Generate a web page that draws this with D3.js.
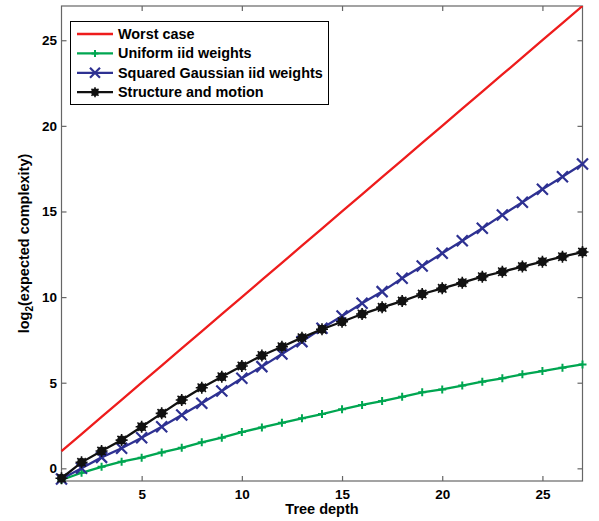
<!DOCTYPE html>
<html lang="en">
<head>
  <meta charset="UTF-8">
  <title>Expected complexity vs tree depth</title>
  <script src="https://d3js.org/d3.v7.min.js"></script>
  <style>
    body { margin: 0; background: #fff; }
    text { font-family: "Liberation Sans", Arial, sans-serif; font-weight: bold; }
  </style>
</head>
<body>
  <script>
    // data
    const depths = d3.range(1, 28);
    const worstCase = depths.map(d => d);
    const uniform = [-0.68, -0.26, 0.09, 0.39, 0.62, 0.93, 1.20, 1.52, 1.79, 2.12, 2.39,
      2.66, 2.92, 3.17, 3.45, 3.70, 3.93, 4.18, 4.44, 4.61, 4.83, 5.06, 5.26, 5.49, 5.68, 5.88, 6.07];
    const gaussian = [-0.62, 0.0, 0.64, 1.17, 1.79, 2.43, 3.11, 3.80, 4.52, 5.26, 5.94,
      6.68, 7.40, 8.18, 8.90, 9.64, 10.32, 11.10, 11.82, 12.56, 13.29, 14.02, 14.80, 15.54, 16.30, 17.03, 17.77];
    const structure = [-0.58, 0.35, 1.01, 1.65, 2.43, 3.21, 3.99, 4.71, 5.35, 5.98, 6.59,
      7.10, 7.63, 8.12, 8.56, 9.01, 9.40, 9.77, 10.18, 10.51, 10.84, 11.19, 11.48, 11.78, 12.07, 12.36, 12.63];
    const xTicks = [5, 10, 15, 20, 25];
    const yTicks = [0, 5, 10, 15, 20, 25];

    const series = [
      { name: 'Worst case', color: '#ee1c1c', values: worstCase, marker: null },
      { name: 'Uniform iid weights', color: '#00a651', values: uniform, marker: 'plus' },
      { name: 'Squared Gaussian iid weights', color: '#2e3192', values: gaussian, marker: 'cross' },
      { name: 'Structure and motion', color: '#111', values: structure, marker: 'star' }
    ];

    const width = 599, height = 521;
    const margin = { left: 61.5, right: 16.5, top: 6, bottom: 40 };

    const svg = d3.select('body').append('svg')
      .attr('width', width).attr('height', height);

    const x = d3.scaleLinear().domain([1, 27]).range([margin.left, width - margin.right]);
    const y = d3.scaleLinear().domain([-0.74, 27]).range([height - margin.bottom, margin.top]);

    const axisColor = '#666';

    // frame
    svg.append('rect')
      .attr('x', x(1)).attr('y', y(27))
      .attr('width', x(27) - x(1)).attr('height', y(-0.74) - y(27))
      .attr('fill', 'none').attr('stroke', axisColor).attr('stroke-width', 1.2);

    function styleAxis(g) {
      g.select('.domain').remove();
      g.selectAll('line').attr('stroke', axisColor).attr('stroke-width', 1.2);
      g.selectAll('text').attr('fill', '#000').style('font-size', '13.5px')
        .style('font-weight', 'bold');
    }

    svg.append('g').attr('transform', `translate(0,${y(-0.74)})`)
      .call(d3.axisBottom(x).tickValues(xTicks).tickSize(-5).tickPadding(8))
      .call(styleAxis);
    svg.append('g').attr('transform', `translate(0,${y(27)})`)
      .call(d3.axisTop(x).tickValues(xTicks).tickSize(-5).tickFormat(''))
      .call(styleAxis);
    svg.append('g').attr('transform', `translate(${x(1)},0)`)
      .call(d3.axisLeft(y).tickValues(yTicks).tickSize(-5).tickPadding(4.5))
      .call(styleAxis);
    svg.append('g').attr('transform', `translate(${x(27)},0)`)
      .call(d3.axisRight(y).tickValues(yTicks).tickSize(-5).tickFormat(''))
      .call(styleAxis);

    // axis labels
    svg.append('text')
      .attr('x', (x(1) + x(27)) / 2).attr('y', 514)
      .attr('text-anchor', 'middle').style('font-size', '14.5px')
      .text('Tree depth');

    const yl = svg.append('text')
      .attr('transform', `translate(29,${(y(-0.74) + y(27)) / 2}) rotate(-90)`)
      .attr('text-anchor', 'middle').style('font-size', '14.5px');
    yl.append('tspan').text('log');
    yl.append('tspan').text('2').style('font-size', '10px').attr('dy', 4);
    yl.append('tspan').text('(expected complexity)').attr('dy', -4);

    // lines and markers
    svg.append('clipPath').attr('id', 'plotclip').append('rect')
      .attr('x', x(1) - 8).attr('y', y(27))
      .attr('width', x(27) - x(1) + 16).attr('height', y(-0.74) - y(27) + 8);

    const line = d3.line().x((d, i) => x(depths[i])).y(d => y(d));

    function drawMarker(g, type, color, s) {
      if (type === 'plus') {
        g.append('path').attr('d', `M${-s},0H${s}M0,${-s}V${s}`)
          .attr('stroke', color).attr('stroke-width', 2).attr('fill', 'none');
      } else if (type === 'cross') {
        g.append('path').attr('d', `M${-s},${-s}L${s},${s}M${-s},${s}L${s},${-s}`)
          .attr('stroke', color).attr('stroke-width', 2.2).attr('fill', 'none');
      } else if (type === 'star') {
        g.append('circle').attr('r', s * 0.75).attr('fill', color);
        g.append('path')
          .attr('d', `M${-s},0H${s}M0,${-s}V${s}M${-s * 0.7},${-s * 0.7}L${s * 0.7},${s * 0.7}M${-s * 0.7},${s * 0.7}L${s * 0.7},${-s * 0.7}`)
          .attr('stroke', color).attr('stroke-width', 1.6).attr('fill', 'none');
      }
    }

    const plot = svg.append('g').attr('clip-path', 'url(#plotclip)');
    series.forEach(s => {
      plot.append('path').datum(s.values)
        .attr('d', line).attr('fill', 'none')
        .attr('stroke', s.color).attr('stroke-width', 2.3);
      if (s.marker) {
        const size = s.marker === 'plus' ? 4 : s.marker === 'cross' ? 5.5 : 6;
        s.values.forEach((v, i) => {
          const g = plot.append('g').attr('transform', `translate(${x(depths[i])},${y(v)})`);
          drawMarker(g, s.marker, s.color, size);
        });
      }
    });

    // legend
    const legend = svg.append('g');
    legend.append('rect')
      .attr('x', 70.5).attr('y', 21.5).attr('width', 258).attr('height', 83)
      .attr('fill', '#fff').attr('stroke', '#000').attr('stroke-width', 1);
    series.forEach((s, i) => {
      const ly = 34 + i * 19.4;
      const g = legend.append('g');
      g.append('line').attr('x1', 77).attr('x2', 113).attr('y1', ly).attr('y2', ly)
        .attr('stroke', s.color).attr('stroke-width', 2.3);
      if (s.marker) {
        const m = g.append('g').attr('transform', `translate(95,${ly})`);
        drawMarker(m, s.marker, s.color, s.marker === 'plus' ? 3.5 : 5);
      }
      g.append('text').attr('x', 118).attr('y', ly + 5)
        .style('font-size', '14.4px').text(s.name);
    });
  </script>
</body>
</html>
